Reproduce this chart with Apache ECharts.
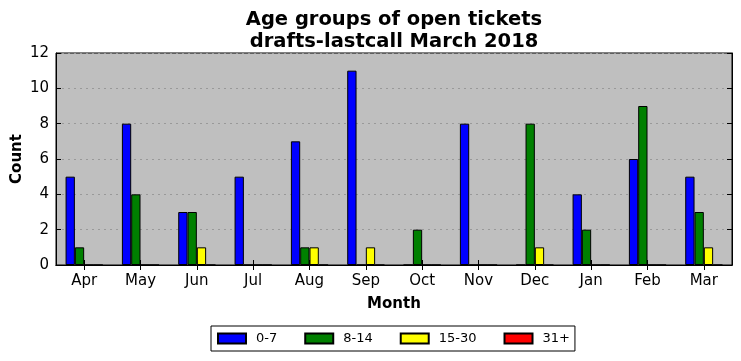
<!DOCTYPE html>
<html><head><meta charset="utf-8">
<script src="https://cdn.jsdelivr.net/npm/echarts@6/dist/echarts.min.js"></script>
<style>html,body{margin:0;padding:0;background:#fff}#c{width:741px;height:361px}</style>
</head><body><div id="c"></div>
<script>
const months = ['Apr','May','Jun','Jul','Aug','Sep','Oct','Nov','Dec','Jan','Feb','Mar'];
const seriesNames = ['0-7','8-14','15-30','31+'];
const seriesColors = ['#0000ff','#008000','#ffff00','#ff0000'];
const age0_7 = [5,8,3,5,7,11,0,8,0,4,6,5];
const age8_14 = [1,4,3,0,1,0,2,0,8,2,9,3];
const age15_30 = [0,0,1,0,1,1,0,0,1,0,0,1];
const age31p = [0,0,0,0,0,0,0,0,0,0,0,0];
const yTicks = [0,2,4,6,8,10,12];
const allData = [age0_7, age8_14, age15_30, age31p];

const font = 'DejaVu Sans';
const chart = echarts.init(document.getElementById('c'));
const tickStyle = {show:true, inside:true, length:5, lineStyle:{color:'#000', width:1}};
chart.setOption({
  animation:false,
  title:{text:'Age groups of open tickets\ndrafts-lastcall March 2018', left:389, top:4, textAlign:'center',
    textStyle:{fontFamily:font, fontWeight:'bold', fontSize:19.5, lineHeight:22, color:'#000'}},
  grid:{left:56, right:9, top:53, bottom:96, show:true, backgroundColor:'#bfbfbf', borderColor:'#000', borderWidth:1,
    containLabel:false, outerBoundsMode:'none'},
  legend:{data:seriesNames, left:211, top:326, orient:'horizontal', itemWidth:28, itemHeight:10, itemGap:27,
    padding:[6,5,6,6], borderColor:'#000', borderWidth:1, icon:'rect',
    textStyle:{fontFamily:font, fontSize:13, color:'#000', padding:[0,0,0,5]}},
  xAxis:[{type:'category', data:months, name:'Month', nameLocation:'middle', nameGap:32, nameMoveOverlap:false,
    nameTextStyle:{fontFamily:font, fontWeight:'bold', fontSize:15, color:'#000'},
    axisLabel:{fontFamily:font, fontSize:15, color:'#000', margin:9},
    axisTick:Object.assign({alignWithLabel:true}, tickStyle),
    axisLine:{lineStyle:{color:'#000'}}},
   {type:'category', data:months, position:'top', axisLabel:{show:false},
    axisTick:Object.assign({alignWithLabel:true}, tickStyle), axisLine:{lineStyle:{color:'#000'}}}],
  yAxis:[{type:'value', min:yTicks[0], max:yTicks[yTicks.length-1], interval:2, name:'Count', nameLocation:'middle', nameGap:31, nameMoveOverlap:false,
    nameTextStyle:{fontFamily:font, fontWeight:'bold', fontSize:15, color:'#000'},
    axisLabel:{fontFamily:font, fontSize:15, color:'#000', margin:7},
    axisTick:tickStyle, axisLine:{show:true, lineStyle:{color:'#000'}},
    splitLine:{show:true, lineStyle:{color:'#999999', type:[2,4], width:1}}},
   {type:'value', min:0, max:12, interval:2, position:'right', axisLabel:{show:false},
    axisTick:tickStyle, axisLine:{show:true, lineStyle:{color:'#000'}}, splitLine:{show:false}}],
  series: seriesNames.map((n,i)=>({
    name:n, type:'bar', data:allData[i], barWidth:9.3, barGap:'0%',
    itemStyle:{color:seriesColors[i], borderColor:'#000', borderWidth:1}
  }))
});
</script></body></html>
